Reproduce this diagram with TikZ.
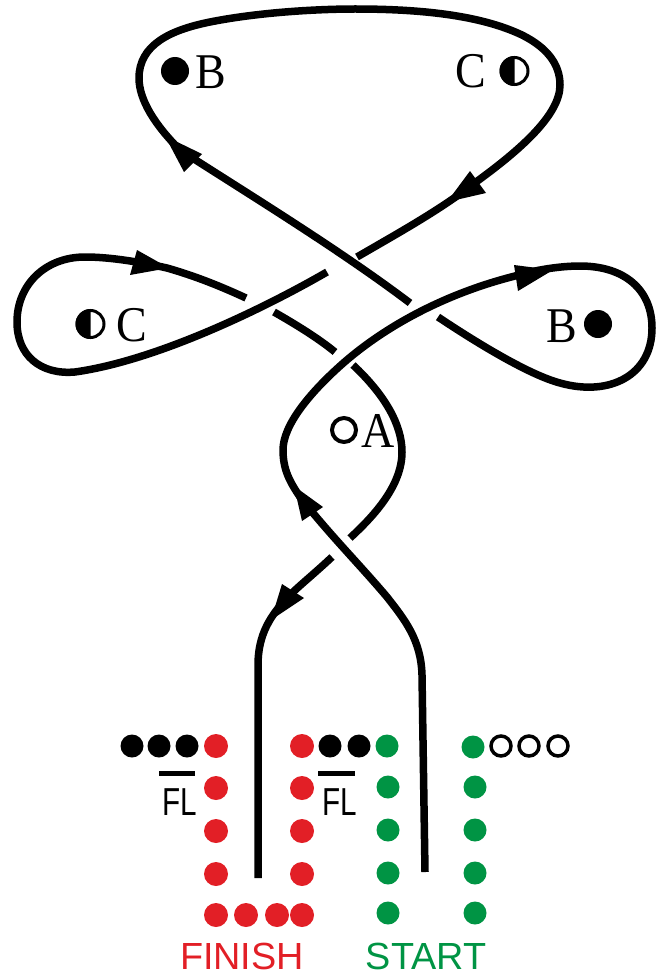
\documentclass[tikz,border=0pt]{standalone}
\usepackage{fontspec}
\setmainfont{Liberation Serif}
\setsansfont{Liberation Sans}
\definecolor{fred}{HTML}{E21F26}
\definecolor{fgreen}{HTML}{009444}
\tikzset{
  strand/.style={line width=7.5pt,line cap=butt,line join=round},
  head/.style={fill=black,draw=none},
  dotk/.style={circle,fill=black,minimum size=23pt,inner sep=0pt},
  dotr/.style={circle,fill=fred,minimum size=24pt,inner sep=0pt},
  dotg/.style={circle,fill=fgreen,minimum size=23pt,inner sep=0pt},
  doto/.style={circle,draw=black,line width=3.5pt,fill=white,minimum size=20pt,inner sep=0pt},
  serif/.style={font=\fontsize{50}{50}\selectfont,xscale=.92,inner sep=0pt},
  flab/.style={font=\sffamily\fontsize{39}{39}\selectfont,xscale=.76,inner sep=0pt},
  caplab/.style={font=\sffamily\fontsize{37.8}{38}\selectfont,inner sep=0pt},
  barline/.style={line width=5pt}
}
\begin{document}
\begin{tikzpicture}[x=1pt,y=-1pt]
\useasboundingbox (0,0) rectangle (667,979);
% strands
\draw[strand] (410,303) .. controls (340,250) and (250,195) .. (180,150) .. controls (155,125) and (139,100) .. (139,78) .. controls (139,45) and (170,30) .. (210,22) .. controls (260,12) and (320,9) .. (355,9) .. controls (420,9) and (480,15) .. (522,35) .. controls (548,48) and (560,65) .. (560,85) .. controls (560,115) and (520,150) .. (476,182) .. controls (440,210) and (400,232) .. (357,257);
\draw[strand] (327,272) .. controls (270,305) and (160,360) .. (75,372) .. controls (40,375) and (17,355) .. (17,322) .. controls (17,285) and (45,257) .. (85,257) .. controls (110,257) and (140,262) .. (167,268) .. controls (195,276) and (220,286) .. (246,298);
\draw[strand] (274,312) .. controls (295,324) and (318,338) .. (335,352);
\draw[strand] (353,365) .. controls (385,395) and (402,425) .. (402,452) .. controls (402,485) and (375,515) .. (350,538);
\draw[strand] (332,557) .. controls (315,573) and (300,585) .. (290,595) .. controls (270,615) and (258,635) .. (258,665) -- (258,878);
\draw[strand] (438,317) .. controls (480,345) and (530,375) .. (560,383) .. controls (610,397) and (652,375) .. (652,328) .. controls (652,290) and (625,266) .. (580,266) .. controls (560,266) and (535,270) .. (515,276) .. controls (440,295) and (380,330) .. (340,366) .. controls (310,393) and (283,425) .. (283,450) .. controls (283,470) and (290,482) .. (300,497) .. controls (330,535) and (360,565) .. (387,597) .. controls (405,620) and (421,640) .. (422,675) -- (425,872);
% arrowheads
\fill[head] (165,136) -- (184,172) -- (202,154) -- cycle;
\fill[head] (447,202) -- (470,171) -- (486,193) -- cycle;
\fill[head] (169,268) -- (137,250) -- (130,275) -- cycle;
\fill[head] (553,270) -- (514,265) -- (518,291) -- cycle;
\fill[head] (294,486) -- (302,521) -- (323,507) -- cycle;
\fill[head] (271,620) -- (282,584) -- (304,598) -- cycle;
% knot labels
\fill (175,71) circle (14);
\node[serif] (b1) at (211,72) {B};
\node[serif] (c1) at (471,71) {C};
\draw[line width=3pt,fill=white] (514.5,71) circle (13.5);
\fill (514.5,86) arc (90:270:15) -- cycle;
\draw[line width=3pt,fill=white] (90.5,324) circle (13.5);
\fill (90.5,339) arc (90:270:15) -- cycle;
\node[serif] (c2) at (132,325) {C};
\node[serif] (b2) at (562,326) {B};
\fill (598,324) circle (14);
\draw[line width=4pt] (344,430) circle (12);
\node[serif] (a) at (378,431) {A};
% dots
\foreach \x in {132,159,187} \node[dotk] at (\x,746) {};
\foreach \x in {330,359} \node[dotk] at (\x,746) {};
\foreach \x in {501,529,558} \node[doto] at (\x,746) {};
\foreach \y in {746,788,831,874,915} { \node[dotr] at (216,\y) {}; \node[dotr] at (302,\y) {}; }
\foreach \x in {246,277} \node[dotr] at (\x,915) {};
\node[dotg] at (387,746) {};
\node[dotg] at (473,747) {};
\foreach \y in {787,830,873,913} { \node[dotg] at (388,\y) {}; \node[dotg] at (475,\y) {}; }
% FL
\draw[barline] (159,773) -- (195,773);
\draw[barline] (318,773) -- (355,773);
\node[flab] (fl1) at (180,802) {FL};
\node[flab] (fl2) at (340,802) {FL};
\node[caplab,text=fred] (finish) at (242,956.5) {FINISH};
\node[caplab,text=fgreen] (start) at (426,956) {START};
\end{tikzpicture}
\end{document}
